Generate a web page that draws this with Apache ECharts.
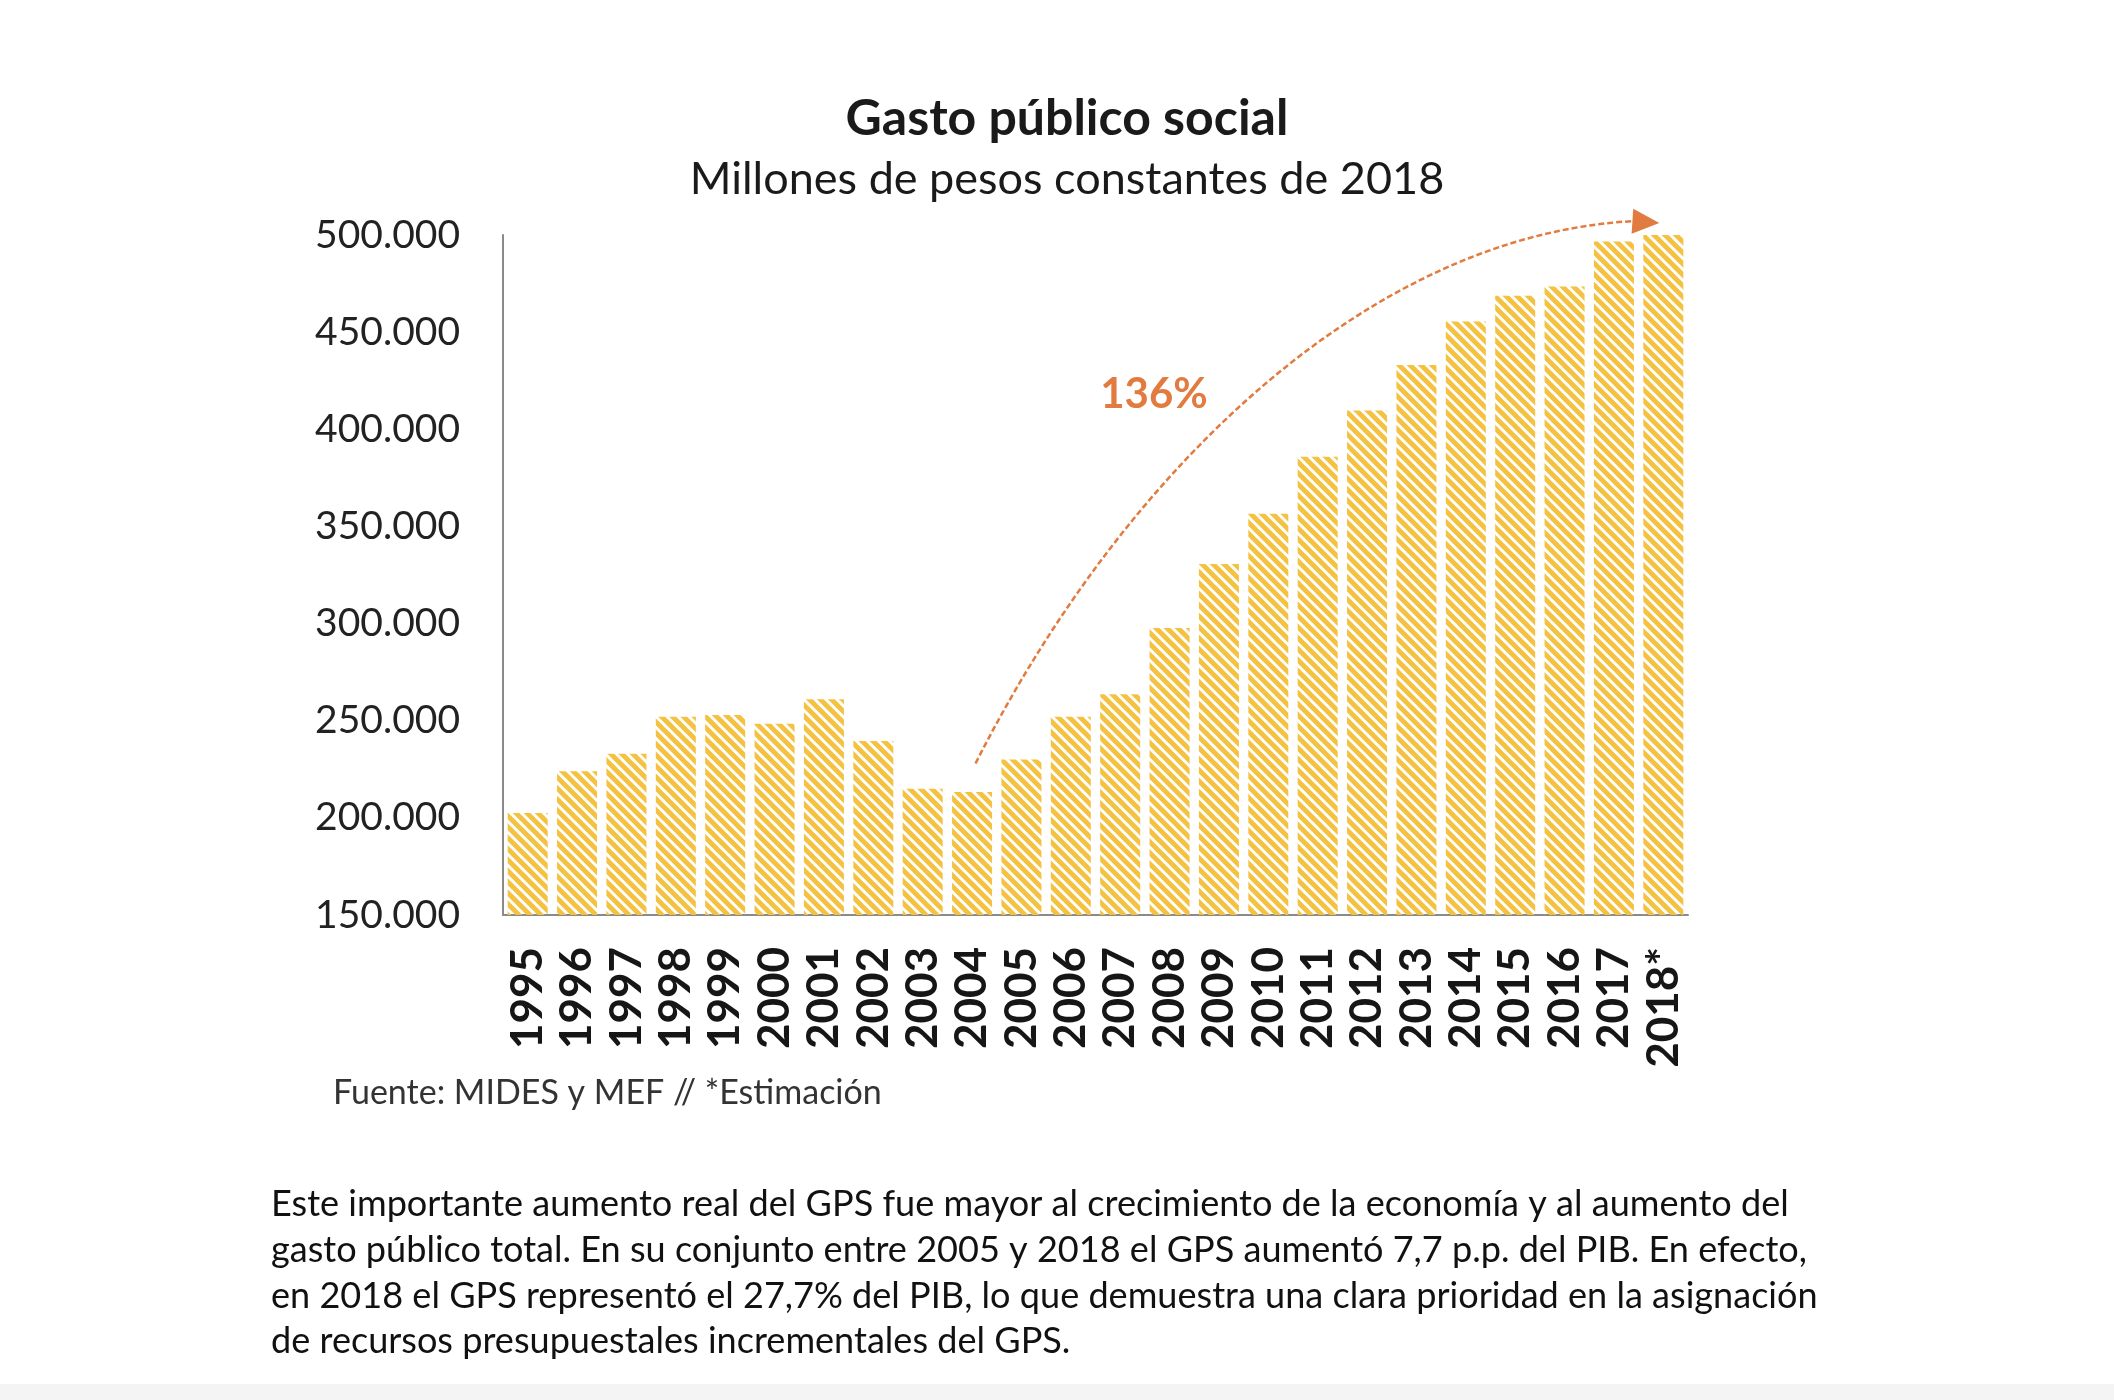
<!DOCTYPE html>
<html>
<head>
<meta charset="utf-8">
<script src="https://cdn.jsdelivr.net/npm/echarts@6/dist/echarts.min.js"></script>
<style>
  html, body { margin: 0; padding: 0; background: #fff; }
  #chart { width: 2114px; height: 1400px; }
</style>
</head>
<body>
<div id="chart"></div>
<script>
// ---- data ----
const categories = ['1995','1996','1997','1998','1999','2000','2001','2002','2003','2004','2005','2006','2007','2008','2009','2010','2011','2012','2013','2014','2015','2016','2017','2018*'];
const gastoSocial = [202500, 224000, 233000, 252000, 253000, 248500, 261000, 239500, 215000, 213300, 230000, 252100, 263600, 297700, 330700, 356500, 385800, 409700, 433100, 455500, 468700, 473500, 496600, 503000];
const yTicks = { min: 150000, max: 500000, interval: 50000 };
const titleText = 'Gasto público social';
const subtitleText = 'Millones de pesos constantes de 2018';
const growthLabel = '136%';
const sourceText = 'Fuente: MIDES y MEF // *Estimación';
const paragraphLines = [
  'Este importante aumento real del GPS fue mayor al crecimiento de la economía y al aumento del',
  'gasto público total. En su conjunto entre 2005 y 2018 el GPS aumentó 7,7 p.p. del PIB. En efecto,',
  'en 2018 el GPS representó el 27,7% del PIB, lo que demuestra una clara prioridad en la asignación',
  'de recursos presupuestales incrementales del GPS.'
];
// growth arrow path in data coordinates [category index, value]
const arrowPath = [[9.07, 228000], [12.2, 385000], [17.2, 500000], [22.62, 506700]];
const arrowTip = [22.92, 506200];

// ---- hatch pattern ----
function makeHatch() {
  const c = document.createElement('canvas');
  const s = 11;
  c.width = s; c.height = s;
  const ctx = c.getContext('2d');
  ctx.strokeStyle = '#F5C140';
  ctx.lineWidth = 4.8;
  ctx.lineCap = 'butt';
  for (let k = -2; k <= 2; k++) {
    ctx.beginPath();
    ctx.moveTo(k * s - s, -s);
    ctx.lineTo(k * s + 2 * s, 2 * s);
    ctx.stroke();
  }
  return c;
}

const chart = echarts.init(document.getElementById('chart'), null, { renderer: 'canvas' });
const fmt = v => String(v).replace(/\B(?=(\d{3})+(?!\d))/g, '.');

chart.setOption({
  backgroundColor: '#ffffff',
  animation: false,
  grid: { left: 503, right: 426, top: 235, bottom: 485, containLabel: false },
  xAxis: {
    type: 'category',
    data: categories,
    boundaryGap: true,
    axisLine: { show: true, lineStyle: { color: '#8a8a8a', width: 2 } },
    axisTick: { show: false },
    axisLabel: {
      rotate: 90, margin: 32, interval: 0,
      fontFamily: 'Lato', fontSize: 44, fontWeight: 'bold', color: '#161616'
    },
    splitLine: { show: false }
  },
  yAxis: {
    type: 'value',
    min: yTicks.min, max: yTicks.max, interval: yTicks.interval,
    axisLine: { show: true, lineStyle: { color: '#8a8a8a', width: 2 } },
    axisTick: { show: false },
    splitLine: { show: false },
    axisLabel: {
      margin: 43, fontFamily: 'Lato', fontSize: 39, color: '#222',
      padding: [10, 0, 0, 0],
      formatter: v => fmt(v)
    }
  },
  series: [{
    type: 'bar',
    data: gastoSocial,
    barWidth: '81%',
    clip: true,
    itemStyle: { color: { image: makeHatch(), repeat: 'repeat' } }
  }]
});

// ---- annotations placed through the axes ----
function toPx(pt) {
  const a = chart.convertToPixel({ gridIndex: 0 }, [categories[0], pt[1]]);
  const b = chart.convertToPixel({ gridIndex: 0 }, [categories[1], pt[1]]);
  return [a[0] + pt[0] * (b[0] - a[0]), a[1]];
}
const P = arrowPath.map(toPx);
const T = toPx(arrowTip);
const dx = T[0] - P[3][0], dy = T[1] - P[3][1];
const len = Math.hypot(dx, dy) || 1;
const ux = dx / len, uy = dy / len;
const headLen = 27, headHalf = 12.5;
const bx = T[0] - ux * headLen, by = T[1] - uy * headLen;
const orange = '#E27B3F';

const txt = (x, y, text, font, fill, align) => ({
  type: 'text', x: x, y: y, silent: true,
  style: { text: text, font: font, fill: fill, align: align, verticalAlign: 'middle', textAlign: align, textVerticalAlign: 'middle' }
});

const graphics = [
  txt(1067, 119, titleText, 'bold 50px Lato', '#1a1a1a', 'center'),
  txt(1067, 179, subtitleText, '45px Lato', '#1a1a1a', 'center'),
  txt(1154, 394, growthLabel, 'bold 42px Lato', orange, 'center'),
  txt(333, 1093, sourceText, '34px Lato', '#333', 'left'),
  {
    type: 'bezierCurve', silent: true,
    shape: { x1: P[0][0], y1: P[0][1], cpx1: P[1][0], cpy1: P[1][1], cpx2: P[2][0], cpy2: P[2][1], x2: bx, y2: by },
    style: { stroke: orange, lineWidth: 2.5, lineDash: [6, 3], fill: null }
  },
  {
    type: 'polygon', silent: true,
    shape: { points: [[T[0], T[1]], [bx - uy * headHalf, by + ux * headHalf], [bx + uy * headHalf, by - ux * headHalf]] },
    style: { fill: orange }
  },
  { type: 'rect', silent: true, shape: { x: 0, y: 1384, width: 2114, height: 16 }, style: { fill: '#f4f4f4' } }
];
const lineY = [1204, 1250, 1296, 1341];
paragraphLines.forEach((l, i) => graphics.push(txt(271, lineY[i], l, '36.1px Lato', '#111', 'left')));

chart.setOption({ graphic: graphics });
</script>
</body>
</html>
